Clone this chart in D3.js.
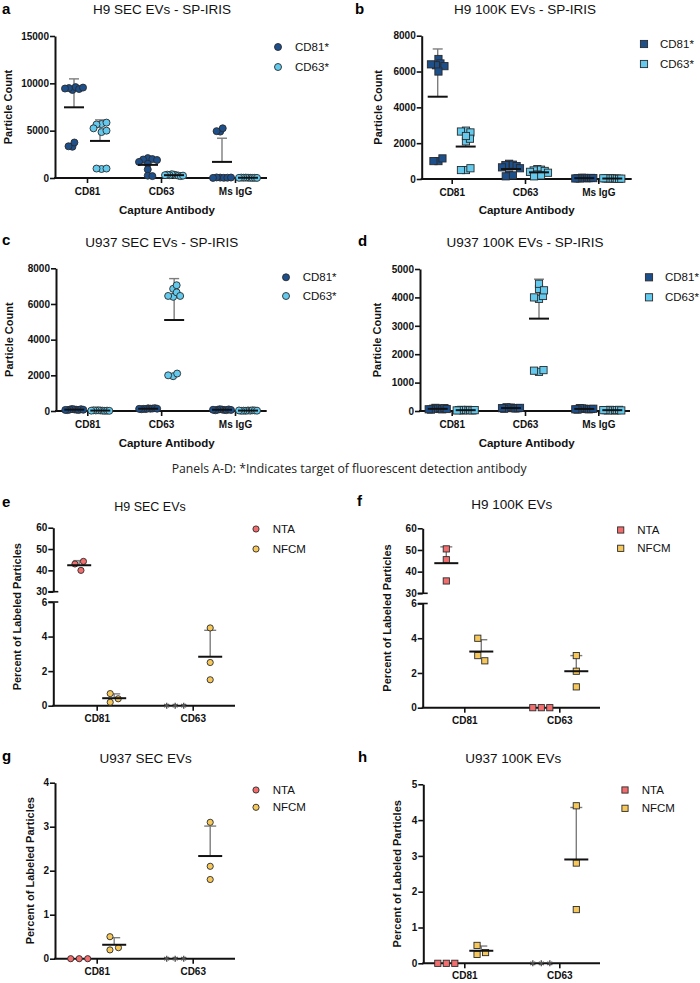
<!DOCTYPE html>
<html>
<head>
<meta charset="utf-8">
<script src="https://cdn.jsdelivr.net/npm/d3@7"></script>
<style>
body { margin: 0; background: #fff; }
svg { display: block; font-family: "Liberation Sans", Arial, sans-serif; }
</style>
</head>
<body>
<svg id="fig" width="700" height="983"></svg>
<script>
// ---- data ----
const capCats = ["CD81", "CD63", "Ms IgG"];
const ehCats = ["CD81", "CD63"];
const seriesAD = ["CD81*", "CD63*"];
const seriesEH = ["NTA", "NFCM"];

// panel a: H9 SEC EVs, particle counts per capture spot
const a_cd81 = [
  [9300, 9600, 9500, 9400, 9450, 9550, 3300, 3750, 3350],
  [2100, 2000, 1950, 1900, 1700, 1500, 900, 250, 200],
  [4900, 5250, 4950, 40, 20, 60, 30, 10, 50]
];
const a_cd63 = [
  [5700, 5850, 5650, 4850, 5000, 5250, 950, 1000, 1000],
  [350, 300, 400, 250, 300, 200, 350, 250, 300],
  [30, 20, 40, 10, 30, 20, 40, 10, 20]
];
// panel b: H9 100K EVs
const b_cd81 = [
  [6700, 6450, 6350, 6300, 6400, 6000, 1000, 1150, 1000],
  [850, 800, 780, 720, 650, 600, 250, 200, 150],
  [60, 40, 70, 50, 30, 60, 40, 50, 30]
];
const b_cd63 = [
  [2700, 2600, 2650, 2100, 2250, 2400, 500, 600, 500],
  [550, 520, 480, 450, 400, 350, 250, 200, 150],
  [30, 20, 40, 20, 30, 10, 30, 20, 40]
];
// panel c: U937 SEC EVs
const c_cd81 = [
  [90, 70, 110, 60, 80, 100, 50, 70, 60],
  [150, 130, 110, 140, 120, 160, 100, 130, 120],
  [80, 60, 100, 50, 70, 90, 40, 60, 70]
];
const c_cd63 = [
  [30, 20, 40, 10, 30, 20, 40, 10, 20],
  [6850, 7050, 6400, 6650, 6450, 6450, 1950, 2100, 2000],
  [30, 20, 10, 40, 20, 30, 10, 20, 30]
];
// panel d: U937 100K EVs
const d_cd81 = [
  [90, 70, 110, 60, 80, 100, 50, 70, 60],
  [120, 100, 110, 90, 130, 100, 80, 110, 100],
  [80, 70, 90, 60, 100, 70, 50, 80, 60]
];
const d_cd63 = [
  [30, 40, 20, 30, 40, 20, 30, 30, 20],
  [3950, 4300, 4050, 4480, 4250, 4000, 1380, 1440, 1420],
  [30, 20, 40, 30, 20, 40, 30, 20, 30]
];
// panels e-h: percent of labeled particles
const e_nta = [[43, 40, 44.2], [0, 0, 0]];
const e_ntaStar = [false, true];
const e_nfcm = [[0.7, 0.2, 0.4], [4.5, 2.5, 1.5]];
const f_nta = [[50.5, 45.5, 35.7], [0, 0, 0]];
const f_ntaStar = [false, false];
const f_nfcm = [[4.0, 3.0, 2.7], [3.0, 2.1, 1.2]];
const g_nta = [[0, 0, 0], [0, 0, 0]];
const g_ntaStar = [false, true];
const g_nfcm = [[0.5, 0.2, 0.25], [3.1, 2.1, 1.8]];
const h_nta = [[0, 0, 0], [0, 0, 0]];
const h_ntaStar = [false, true];
const h_nfcm = [[0.5, 0.25, 0.3], [4.4, 2.8, 1.5]];

const ticksA = [0, 5000, 10000, 15000];
const ticksB = [0, 2000, 4000, 6000, 8000];
const ticksD = [0, 1000, 2000, 3000, 4000, 5000];
const ticksLow = [0, 2, 4, 6];
const ticksHigh = [30, 40, 50, 60];
const ticksG = [0, 1, 2, 3, 4];
const ticksH = [0, 1, 2, 3, 4, 5];

const dark = "#1d4f8b", light = "#63caee", ntaCol = "#f26e6e", nfcmCol = "#f6c85c";

const svg = d3.select("#fig");

// simple beeswarm: spread points that would overlap
function swarm(ys, minD, maxSpan) {
  const placed = [];
  ys.forEach(y => {
    let dx = 0;
    for (let k = 0; k < 400; k++) {
      const c = k === 0 ? 0 : (k % 2 ? 1 : -1) * Math.ceil(k / 2) * 0.5;
      if (placed.every(p => Math.hypot(p.dx - c, p.y - y) >= minD)) { dx = c; break; }
    }
    placed.push({dx, y});
  });
  const lo = d3.min(placed, p => p.dx), hi = d3.max(placed, p => p.dx);
  const k = hi - lo > maxSpan ? maxSpan / (hi - lo) : 1;
  const mid = (lo + hi) / 2;
  placed.forEach(p => p.dx = (p.dx - mid) * k);
  return placed;
}

function mark(g, shape, x, y, col, sz) {
  if (shape === "circle") {
    g.append("circle").attr("cx", x).attr("cy", y).attr("r", sz)
      .attr("fill", col).attr("stroke", "#2a2a2a").attr("stroke-width", 0.9);
  } else if (shape === "square") {
    g.append("rect").attr("x", x - sz).attr("y", y - sz).attr("width", sz * 2).attr("height", sz * 2)
      .attr("fill", col).attr("stroke", "#2a2a2a").attr("stroke-width", 0.9);
  } else {
    g.append("path").attr("d", d3.symbol(d3.symbolAsterisk, 24)())
      .attr("transform", `translate(${x},${y})`)
      .attr("fill", "none").attr("stroke", "#555").attr("stroke-width", 1.4);
  }
}

function panel(o) {
  const g = svg.append("g");
  g.append("text").attr("x", o.lx).attr("y", o.ly).attr("font-size", 15)
    .attr("font-weight", "bold").text(o.letter);
  g.append("text").attr("x", o.tx).attr("y", o.ty).attr("text-anchor", "middle")
    .attr("font-size", o.ts || 13.5).attr("fill", "#111").text(o.title);

  const x = d3.scalePoint().domain(o.cats).range(o.catRange);
  const segs = o.segs.map(s => Object.assign({}, s, {sc: d3.scaleLinear().domain(s.domain).range(s.range)}));
  const yOf = v => (segs.find(s => v <= s.domain[1]) || segs[segs.length - 1]).sc(v);

  // y axis (possibly broken)
  segs.forEach((s, i) => {
    const ax = g.append("g").attr("transform", `translate(${o.axisX},0)`)
      .call(d3.axisLeft(s.sc).tickValues(s.ticks).tickFormat(d3.format("d"))
        .tickSize(5).tickPadding(1).tickSizeOuter(0));
    ax.attr("color", "#111").attr("font-family", null);
    ax.select(".domain").attr("stroke-width", 2);
    ax.selectAll(".tick line").attr("stroke-width", 1.6);
    ax.selectAll("text").attr("font-size", 10).attr("font-weight", "bold").attr("fill", "#111");
    if (segs.length > 1) {
      const edge = i === 0 ? s.domain[1] : s.domain[0];
      g.append("line").attr("x1", o.axisX - 5).attr("x2", o.axisX + 5)
        .attr("y1", s.sc(edge)).attr("y2", s.sc(edge)).attr("stroke", "#111").attr("stroke-width", 1.6);
    }
  });

  // x axis
  const y0 = segs[0].sc(0);
  const xa = g.append("g").attr("transform", `translate(0,${y0})`)
    .call(d3.axisBottom(x).tickSize(5).tickPadding(o.xpad || 5).tickSizeOuter(0));
  xa.attr("color", "#111").attr("font-family", null);
  xa.select(".domain").remove();
  xa.selectAll(".tick line").attr("stroke-width", 1.6);
  xa.selectAll("text").attr("font-size", 10).attr("font-weight", "bold").attr("fill", "#111");
  g.append("line").attr("x1", o.axisX - 1).attr("x2", o.xEnd).attr("y1", y0).attr("y2", y0)
    .attr("stroke", "#111").attr("stroke-width", 2);

  // points and mean + SD
  const bars = g.append("g"), pts = g.append("g"), means = g.append("g");
  o.series.forEach((s, si) => {
    s.values.forEach((vals, ci) => {
      const cx = x(o.cats[ci]) + o.off[si];
      const star = s.star && s.star[ci];
      swarm(vals.map(yOf), o.minD, o.maxSpan)
        .forEach(p => mark(pts, star ? "star" : o.shape, cx + p.dx, p.y, s.color, o.size));
      const m = d3.mean(vals), sd = d3.deviation(vals);
      if (m > 0) {
        const top = yOf(m + sd);
        bars.append("line").attr("x1", cx).attr("x2", cx).attr("y1", yOf(m)).attr("y2", top)
          .attr("stroke", "#7d7d7d").attr("stroke-width", 1.4);
        bars.append("line").attr("x1", cx - o.capW / 2).attr("x2", cx + o.capW / 2)
          .attr("y1", top).attr("y2", top).attr("stroke", "#7d7d7d").attr("stroke-width", 1.4);
        means.append("line").attr("x1", cx - o.meanW / 2).attr("x2", cx + o.meanW / 2)
          .attr("y1", yOf(m)).attr("y2", yOf(m)).attr("stroke", "#111").attr("stroke-width", 2);
      }
    });
  });
  pts.raise(); means.raise();

  // legend
  o.series.forEach((s, si) => {
    const ly = o.leg.y + si * o.leg.dy;
    mark(g, o.shape, o.leg.x, ly, s.color, o.size);
    g.append("text").attr("x", o.leg.tx).attr("y", ly).attr("dy", "0.35em")
      .attr("font-size", 11.5).attr("fill", "#111").text(s.name);
  });

  // axis titles
  const yc = (d3.min(segs, s => d3.min(s.range)) + d3.max(segs, s => d3.max(s.range))) / 2;
  g.append("text").attr("transform", `translate(${o.ylx},${yc}) rotate(-90)`)
    .attr("text-anchor", "middle").attr("dy", "0.35em").attr("font-size", 11)
    .attr("font-weight", "bold").attr("fill", "#111").text(o.ylabel);
  if (o.xlabel) {
    g.append("text").attr("x", o.xlx).attr("y", o.xly).attr("text-anchor", "middle")
      .attr("dy", "0.35em").attr("font-size", 11.5).attr("font-weight", "bold")
      .attr("fill", "#111").text(o.xlabel);
  }
}

const adBase = {cats: capCats, shape: "circle", size: 3.5, minD: 4.8, maxSpan: 18,
  meanW: 20, capW: 10, ylabel: "Particle Count", xlabel: "Capture Antibody"};
const ehBase = {cats: ehCats, size: 3.1, minD: 8.5, maxSpan: 20, meanW: 24, capW: 12,
  ylabel: "Percent of Labeled Particles", xpad: 4};

panel(Object.assign({}, adBase, {
  letter: "a", lx: 2, ly: 14, title: "H9 SEC EVs - SP-IRIS", tx: 162, ty: 14.3,
  segs: [{domain: [0, 15000], range: [178, 36], ticks: ticksA}],
  axisX: 55, xEnd: 267, catRange: [87, 235], off: [-13, 13],
  series: [{name: seriesAD[0], color: dark, values: a_cd81}, {name: seriesAD[1], color: light, values: a_cd63}],
  leg: {x: 278, y: 47, dy: 20, tx: 295}, ylx: 8.5, xlx: 167, xly: 210
}));
panel(Object.assign({}, adBase, {
  letter: "b", lx: 355, ly: 14, title: "H9 100K EVs - SP-IRIS", tx: 525, ty: 14,
  shape: "square", size: 3.6,
  segs: [{domain: [0, 8000], range: [179, 35.7], ticks: ticksB}],
  axisX: 421.7, xEnd: 631.7, catRange: [451.7, 598.3], off: [-14, 14],
  series: [{name: seriesAD[0], color: dark, values: b_cd81}, {name: seriesAD[1], color: light, values: b_cd63}],
  leg: {x: 644, y: 44, dy: 20, tx: 660}, ylx: 378.3, xlx: 526.7, xly: 210
}));
panel(Object.assign({}, adBase, {
  letter: "c", lx: 2, ly: 245, title: "U937 SEC EVs - SP-IRIS", tx: 161.7, ty: 246.7,
  segs: [{domain: [0, 8000], range: [411, 268.3], ticks: ticksB}],
  axisX: 56, xEnd: 266.7, catRange: [87.3, 235], off: [-13, 13],
  series: [{name: seriesAD[0], color: dark, values: c_cd81}, {name: seriesAD[1], color: light, values: c_cd63}],
  leg: {x: 286, y: 277.3, dy: 18.7, tx: 302.7}, ylx: 9.3, xlx: 166.7, xly: 443.3
}));
panel(Object.assign({}, adBase, {
  letter: "d", lx: 358, ly: 245.7, title: "U937 100K EVs - SP-IRIS", tx: 525, ty: 247.3,
  shape: "square", size: 3.6,
  segs: [{domain: [0, 5000], range: [411, 269], ticks: ticksD}],
  axisX: 420, xEnd: 630, catRange: [451.7, 598.3], off: [-14, 14],
  series: [{name: seriesAD[0], color: dark, values: d_cd81}, {name: seriesAD[1], color: light, values: d_cd63}],
  leg: {x: 649, y: 277.3, dy: 20, tx: 665}, ylx: 377.3, xlx: 526.7, xly: 443.3
}));

svg.append("text").attr("x", 171.7).attr("y", 473.3).attr("font-size", 12)
  .attr("font-family", "'Open Sans', 'Noto Sans', sans-serif").attr("fill", "#222")
  .attr("textLength", 355).attr("lengthAdjust", "spacingAndGlyphs")
  .text("Panels A-D: *Indicates target of fluorescent detection antibody");

panel(Object.assign({}, ehBase, {
  letter: "e", lx: 2, ly: 506.7, title: "H9 SEC EVs", tx: 150, ty: 511, ts: 12.5, shape: "circle",
  segs: [{domain: [0, 6], range: [705.7, 602], ticks: ticksLow}, {domain: [30, 60], range: [591.7, 527.7], ticks: ticksHigh}],
  axisX: 53.3, xEnd: 235, catRange: [96.7, 192.7], off: [-17.5, 17.5],
  series: [{name: seriesEH[0], color: ntaCol, values: e_nta, star: e_ntaStar}, {name: seriesEH[1], color: nfcmCol, values: e_nfcm}],
  leg: {x: 256, y: 529, dy: 20, tx: 272.7}, ylx: 17
}));
panel(Object.assign({}, ehBase, {
  letter: "f", lx: 357, ly: 506, title: "H9 100K EVs", tx: 511.7, ty: 509, shape: "square",
  segs: [{domain: [0, 6], range: [707.7, 603.5], ticks: ticksLow}, {domain: [30, 60], range: [593.3, 528.3], ticks: ticksHigh}],
  axisX: 422.7, xEnd: 600, catRange: [464.3, 559.3], off: [-18, 17],
  series: [{name: seriesEH[0], color: ntaCol, values: f_nta, star: f_ntaStar}, {name: seriesEH[1], color: nfcmCol, values: f_nfcm}],
  leg: {x: 620.7, y: 530, dy: 18.3, tx: 637.3}, ylx: 386.7
}));
panel(Object.assign({}, ehBase, {
  letter: "g", lx: 2, ly: 760.7, title: "U937 SEC EVs", tx: 145.7, ty: 762.7, shape: "circle",
  segs: [{domain: [0, 4], range: [958.7, 782.7], ticks: ticksG}],
  axisX: 55, xEnd: 235, catRange: [96.7, 192.7], off: [-17.5, 17.5],
  series: [{name: seriesEH[0], color: ntaCol, values: g_nta, star: g_ntaStar}, {name: seriesEH[1], color: nfcmCol, values: g_nfcm}],
  leg: {x: 256, y: 790, dy: 17.3, tx: 272.7}, ylx: 30
}));
panel(Object.assign({}, ehBase, {
  letter: "h", lx: 358, ly: 761.7, title: "U937 100K EVs", tx: 513.3, ty: 763.3, shape: "square",
  segs: [{domain: [0, 5], range: [963.3, 784.3], ticks: ticksH}],
  axisX: 423.3, xEnd: 600, catRange: [464.3, 559.3], off: [-18, 17],
  series: [{name: seriesEH[0], color: ntaCol, values: h_nta, star: h_ntaStar}, {name: seriesEH[1], color: nfcmCol, values: h_nfcm}],
  leg: {x: 625, y: 790, dy: 18.3, tx: 641.7}, ylx: 396.7
}));
</script>
</body>
</html>
